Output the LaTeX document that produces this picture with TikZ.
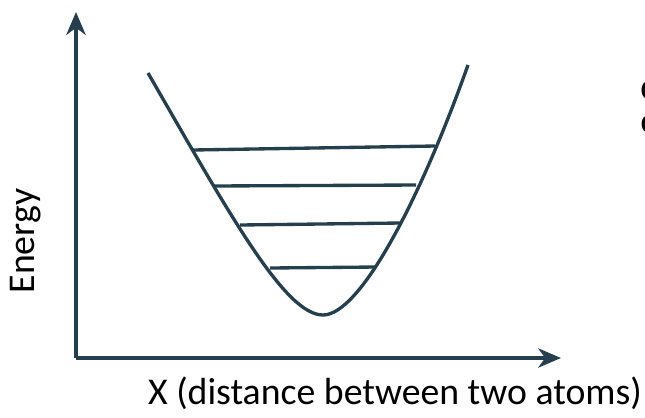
\documentclass[tikz,border=0pt]{standalone}
\usepackage{fontspec}
\setmainfont{Carlito}
\usepackage{tikz}
\usetikzlibrary{arrows.meta,positioning}
\definecolor{slate}{HTML}{263F4D}

\begin{document}
\begin{tikzpicture}[x=0.02cm, y=-0.02cm, every node/.style={font=\fontsize{21.5}{26}\selectfont},
    axis/.style={draw=slate, line width=2pt, -{Stealth[length=13pt,width=11pt,inset=4pt]}},
    well/.style={draw=slate, line width=1.9pt},
    level/.style={draw=slate, line width=1.9pt}]
\useasboundingbox (0,0) rectangle (645,417);
% axes
\coordinate (origin) at (76,358);
\coordinate (ytip)   at (76,12);
\coordinate (xtip)   at (561,358);
\draw[axis] (origin) -- (ytip);
\draw[axis] (origin) -- (xtip);
\node[rotate=90] (energy) at (26,241) {Energy};
\node (xlabel) at (395,393) {X (distance between two atoms)};
% potential well
\coordinate (wl) at (148,73);
\coordinate (wmin) at (323,315);
\coordinate (wr) at (468,65);
\draw[well] (wl) .. controls (230,215) and (285,315) .. (wmin)
            .. controls (360,315) and (420,200) .. (wr);
% energy levels
\coordinate (l1a) at (193,150); \coordinate (l1b) at (435,146);
\coordinate (l2a) at (213,186); \coordinate (l2b) at (416,185);
\coordinate (l3a) at (240,225); \coordinate (l3b) at (400,223);
\coordinate (l4a) at (270,268); \coordinate (l4b) at (376,267);
\draw[level] (l1a) -- (l1b);
\draw[level] (l2a) -- (l2b);
\draw[level] (l3a) -- (l3b);
\draw[level] (l4a) -- (l4b);
% clipped text at the right edge
\node[anchor=west, inner sep=0pt] (cut1) at (640,90) {c};
\node[anchor=west, inner sep=0pt] (cut2) at (640,124) {e};
\end{tikzpicture}
\end{document}
